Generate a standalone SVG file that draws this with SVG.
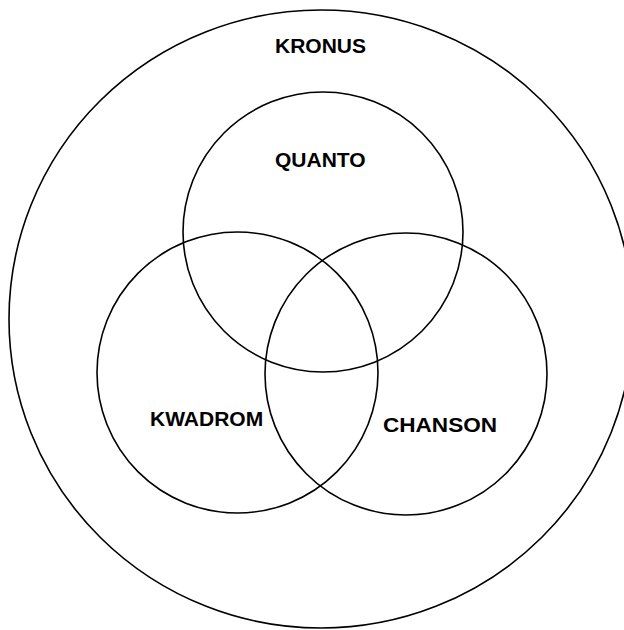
<svg xmlns="http://www.w3.org/2000/svg" width="624" height="630" viewBox="0 0 624 630">
<style>
.c{fill:none;stroke:#000;stroke-width:1.6}
.t{font-family:"Liberation Sans",Arial,sans-serif;font-weight:bold;font-size:21px;fill:#000}
</style>
<rect width="624" height="630" fill="#fff"/>
<g id="kronus">
<ellipse class="c" cx="321" cy="319" rx="312" ry="309"/>
<text class="t" x="275" y="53">KRONUS</text>
</g>
<g id="quanto">
<circle class="c" cx="323" cy="232" r="140"/>
<text class="t" x="275" y="167">QUANTO</text>
</g>
<g id="kwadrom">
<circle class="c" cx="237.5" cy="372.5" r="140.5"/>
<text class="t" x="150" y="426">KWADROM</text>
</g>
<g id="chanson">
<circle class="c" cx="406" cy="374" r="141"/>
<text class="t" x="383" y="432" textLength="114" lengthAdjust="spacingAndGlyphs">CHANSON</text>
</g>
<g id="connectors"/>
</svg>
